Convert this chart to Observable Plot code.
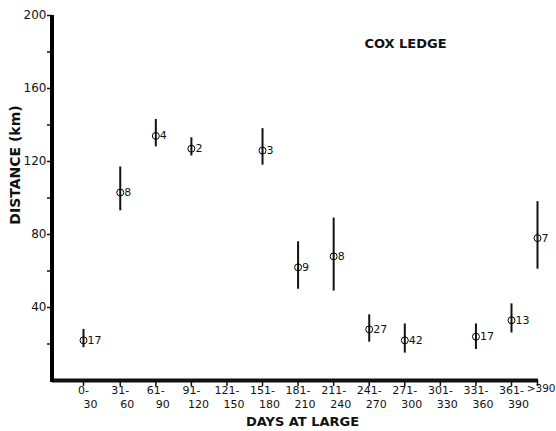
<!DOCTYPE html>
<html><head><meta charset="utf-8">
<script src="https://cdn.jsdelivr.net/npm/d3@7"></script>
<script src="https://cdn.jsdelivr.net/npm/@observablehq/plot@0.6"></script>
<style>body{margin:0;background:#fff}</style>
</head><body><div id="chart"></div>
<script>
// Days-at-large bins (label, start day of bin)
const categories = ["0-30","31-60","61-90","91-120","121-150","151-180","181-210","211-240","241-270","271-300","301-330","331-360","361-390",">390"];
const binStart = [0,31,61,91,121,151,181,211,241,271,301,331,361,391];
// Distance (km): mean, lower and upper extent of bar, number of tags
const meanKm = [22,103,134,127,null,126,62,68,28,22,null,24,33,78];
const lowKm  = [18,93,128,123,null,118,50,49,21,15,null,17,26,61];
const highKm = [28,117,143,133,null,138,76,89,36,31,null,31,42,98];
const nTags  = [17,8,4,2,null,3,9,8,27,42,null,17,13,7];
const yTicks = [40,80,120,160,200];
const yMinorTicks = [20,60,100,140,180];
const titleText = "COX LEDGE";
const xLabel = "DAYS AT LARGE";
const yLabel = "DISTANCE (km)";

const bins = categories.map((c, i) => ({cat: c, start: binStart[i]}));
const regular = bins.filter(d => d.cat.includes("-"));
const openBin = bins.filter(d => !d.cat.includes("-"));
const rows = bins.map((d, i) => ({...d, mean: meanKm[i], low: lowKm[i], high: highKm[i], n: nTags[i]}))
  .filter(d => d.mean != null);

const font = "'DejaVu Sans', sans-serif";
const chart = Plot.plot({
  width: 556, height: 431,
  marginLeft: 52, marginTop: 15, marginBottom: 51, marginRight: 18,
  style: {fontFamily: font, fontSize: "11px", color: "#111", background: "#fff"},
  x: {type: "linear", domain: [0, 361, 391], range: [83, 511, 537]},
  y: {domain: [0, 200]},
  marks: [
    Plot.axisY({ticks: yTicks, tickSize: 5, tickPadding: 1, fontSize: 12, label: null, strokeWidth: 1.5}),
    Plot.axisY({ticks: yMinorTicks, tickSize: 5, tickFormat: () => "", label: null, strokeWidth: 1.5}),
    Plot.axisX({ticks: binStart, tickSize: 6, tickFormat: () => "", label: null, strokeWidth: 1.5}),
    Plot.ruleY([0], {strokeWidth: 4}),
    Plot.text(regular, {x: "start", text: d => d.cat.split("-")[0] + "-", frameAnchor: "bottom", dy: 13, fontSize: 11}),
    Plot.text(regular, {x: "start", text: d => d.cat.split("-")[1], frameAnchor: "bottom", dy: 27, dx: 7, fontSize: 11}),
    Plot.text(openBin, {x: "start", text: "cat", frameAnchor: "bottom", dy: 11, dx: 18, textAnchor: "end", fontSize: 10.5}),
    Plot.ruleX(rows, {x: "start", y1: "low", y2: "high", strokeWidth: 2}),
    Plot.dot(rows, {x: "start", y: "mean", r: 3.5, stroke: "#000", strokeWidth: 1, fill: "none"}),
    Plot.text(rows, {x: "start", y: "mean", text: "n", dx: 4, textAnchor: "start", fontSize: 11}),
    Plot.text([titleText], {frameAnchor: "top-left", dx: 353, dy: 28, textAnchor: "middle", lineAnchor: "middle", fontWeight: "bold", fontSize: 13}),
    Plot.text([xLabel], {frameAnchor: "bottom", dx: 7, dy: 41, lineAnchor: "middle", fontWeight: "bold", fontSize: 13}),
    Plot.text([yLabel], {frameAnchor: "left", dx: -37, dy: -33, rotate: -90, textAnchor: "middle", lineAnchor: "middle", fontWeight: "bold", fontSize: 14, letterSpacing: "0.5px"})
  ]
});
// y-axis spine
d3.select(chart).append("line")
  .attr("x1", 52).attr("x2", 52).attr("y1", 15).attr("y2", 382)
  .attr("stroke", "#000").attr("stroke-width", 4);
document.getElementById("chart").appendChild(chart);
</script>
</body></html>
